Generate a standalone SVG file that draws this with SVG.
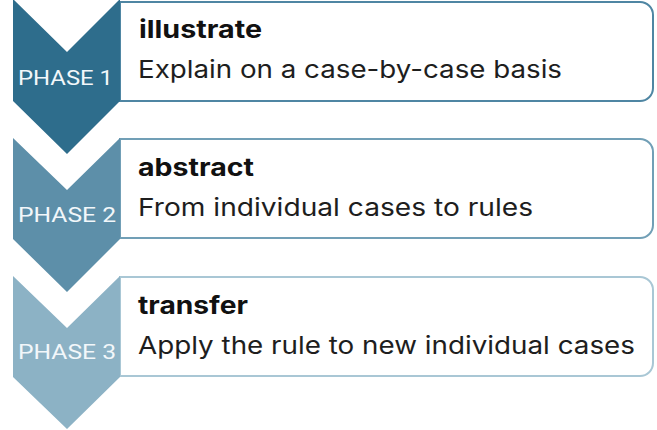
<svg xmlns="http://www.w3.org/2000/svg" width="657" height="430" viewBox="0 0 657 430">
  <style>
    .box { fill: #ffffff; stroke-width: 2; }
    .title { font-family: Inter, "Liberation Sans", sans-serif; font-weight: bold; font-size: 24.5px; fill: #111111; }
    .desc { font-family: Inter, "Liberation Sans", sans-serif; font-size: 24.5px; fill: #1e1e1e; }
    .phase { font-family: Roboto, "Liberation Sans", sans-serif; font-size: 21px; fill: #f2f7fa; }
  </style>
  <rect x="0" y="0" width="657" height="430" fill="#ffffff"/>

  <g id="phase1">
    <path class="box" stroke="#4f86a3" d="M120,2 H640 A13,13 0 0 1 653,15 V88 A13,13 0 0 1 640,101 H120 Z"/>
    <polygon fill="#2e6d8c" points="13,-1 67,52 120,-1 120,101 67,154 13,101"/>
    <text class="phase" x="18" y="85" textLength="95" lengthAdjust="spacingAndGlyphs">PHASE 1</text>
    <text class="title" x="139" y="38" textLength="123" lengthAdjust="spacingAndGlyphs">illustrate</text>
    <text class="desc" x="138" y="78" textLength="424" lengthAdjust="spacingAndGlyphs">Explain on a case-by-case basis</text>
  </g>

  <g id="phase2">
    <path class="box" stroke="#719fb6" d="M120,139 H640 A13,13 0 0 1 653,152 V225 A13,13 0 0 1 640,238 H120 Z"/>
    <polygon fill="#5d8fa9" points="13,138 67,190 120,138 120,239 67,292 13,239"/>
    <text class="phase" x="18" y="222" textLength="98" lengthAdjust="spacingAndGlyphs">PHASE 2</text>
    <text class="title" x="138" y="176" textLength="116" lengthAdjust="spacingAndGlyphs">abstract</text>
    <text class="desc" x="138" y="216" textLength="395" lengthAdjust="spacingAndGlyphs">From individual cases to rules</text>
  </g>

  <g id="phase3">
    <path class="box" stroke="#a9c7d5" d="M120,277 H640 A13,13 0 0 1 653,290 V363 A13,13 0 0 1 640,376 H120 Z"/>
    <polygon fill="#8cb2c5" points="13,276 67,328 120,276 120,377 67,429 13,377"/>
    <text class="phase" x="18" y="359" textLength="98" lengthAdjust="spacingAndGlyphs">PHASE 3</text>
    <text class="title" x="138" y="314" textLength="110" lengthAdjust="spacingAndGlyphs">transfer</text>
    <text class="desc" x="138" y="354" textLength="497" lengthAdjust="spacingAndGlyphs">Apply the rule to new individual cases</text>
  </g>
</svg>
